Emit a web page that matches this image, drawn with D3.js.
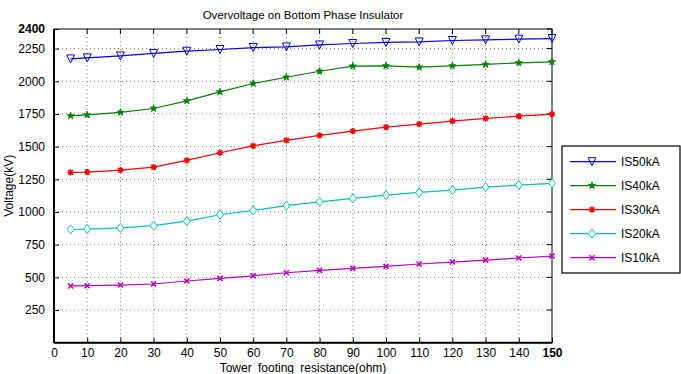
<!DOCTYPE html>
<html><head><meta charset="utf-8">
<script src="https://cdn.jsdelivr.net/npm/d3@7"></script>
<style>body{margin:0;background:#fff}svg{display:block;font-family:"Liberation Sans",Arial,sans-serif}</style>
</head><body><svg id="c" width="681" height="374"></svg>
<script>
const resistance = [5,10,20,30,40,50,60,70,80,90,100,110,120,130,140,150];
const is50 = [2171,2179,2194,2213,2230,2243,2258,2263,2278,2289,2297,2301,2312,2317,2322,2327];
const is40 = [1736,1743,1762,1792,1850,1919,1983,2031,2077,2116,2118,2108,2118,2129,2141,2149];
const is30 = [1303,1305,1320,1343,1395,1453,1506,1548,1586,1619,1649,1672,1695,1716,1733,1749];
const is20 = [867,869,879,895,930,979,1012,1048,1078,1104,1129,1150,1168,1190,1206,1219];
const is10 = [434,436,441,449,472,492,512,535,553,569,584,602,617,632,648,663];
const seriesNames = ["IS50kA","IS40kA","IS30kA","IS20kA","IS10kA"];
const xTicks = [0,10,20,30,40,50,60,70,80,90,100,110,120,130,140,150];
const yTicks = [250,500,750,1000,1250,1500,1750,2000,2250,2400];

const series = [
  {name:seriesNames[0], values:is50, color:"#0000ff", marker:"tri"},
  {name:seriesNames[1], values:is40, color:"#008000", marker:"star"},
  {name:seriesNames[2], values:is30, color:"#ff0000", marker:"ast"},
  {name:seriesNames[3], values:is20, color:"#00bfbf", marker:"dia"},
  {name:seriesNames[4], values:is10, color:"#bf00bf", marker:"x"}
];

const svg = d3.select("#c");
const L=54, R=552, T=29, B=342.7;
const x = d3.scaleLinear().domain([0,150]).range([L,R]);
const y = d3.scaleLinear().domain([0,2400]).range([B,T]);

// grid
const g = svg.append("g");
g.selectAll(".gx").data(xTicks.filter(d=>d>0&&d<150)).join("line")
  .attr("x1",d=>x(d)).attr("x2",d=>x(d)).attr("y1",T).attr("y2",B)
  .attr("stroke","#555").attr("stroke-width",0.8).attr("stroke-dasharray","1,3");
g.selectAll(".gy").data(yTicks.filter(d=>d<2400)).join("line")
  .attr("y1",d=>y(d)).attr("y2",d=>y(d)).attr("x1",L).attr("x2",R)
  .attr("stroke","#555").attr("stroke-width",0.8).attr("stroke-dasharray","1,3");

// axes
const fmt = d3.format("d");
const xAxis = d3.axisBottom(x).tickValues(xTicks).tickFormat(fmt).tickSizeInner(-5).tickSizeOuter(0).tickPadding(6);
const yAxis = d3.axisLeft(y).tickValues(yTicks).tickFormat(fmt).tickSizeInner(-5).tickSizeOuter(0).tickPadding(9);
const ax = svg.append("g").attr("transform",`translate(0,${B})`).call(xAxis);
const ay = svg.append("g").attr("transform",`translate(${L},0)`).call(yAxis);
[ax,ay].forEach(a=>{
  a.select(".domain").remove();
  a.selectAll("text").attr("font-size",12).attr("fill","#000").attr("font-family","Liberation Sans, Arial, sans-serif");
  a.selectAll("line").attr("stroke","#000");
});
ax.selectAll("text").filter(d=>d===150).attr("font-weight","bold");
ay.selectAll("text").filter(d=>d===2400).attr("font-weight","bold");
// top/right ticks
svg.append("g").selectAll("line").data(xTicks).join("line")
  .attr("x1",d=>x(d)).attr("x2",d=>x(d)).attr("y1",T).attr("y2",T+5).attr("stroke","#000");
svg.append("g").selectAll("line").data(yTicks).join("line")
  .attr("x1",R).attr("x2",R-5).attr("y1",d=>y(d)).attr("y2",d=>y(d)).attr("stroke","#000");
// box
svg.append("rect").attr("x",L).attr("y",T).attr("width",R-L).attr("height",B-T)
  .attr("fill","none").attr("stroke","#000").attr("stroke-width",1);
svg.append("line").attr("x1",L).attr("x2",R).attr("y1",B).attr("y2",B).attr("stroke","#000").attr("stroke-width",2);
svg.append("line").attr("x1",L).attr("x2",L).attr("y1",T).attr("y2",B).attr("stroke","#000").attr("stroke-width",2);

function drawMarker(sel, type, color){
  const s=4;
  if(type==="tri"){
    sel.append("path").attr("d",`M${-s},${-s}L${s},${-s}L0,${s}Z`).attr("fill","none").attr("stroke",color).attr("stroke-width",1);
  } else if(type==="star"){
    sel.append("path").attr("d",d3.symbol(d3.symbolStar,16)()).attr("fill",color).attr("stroke",color).attr("stroke-width",0.8);
  } else if(type==="ast"){
    sel.append("path").attr("d",`M0,-3.2L0,3.2M-3.2,0L3.2,0M-2.3,-2.3L2.3,2.3M-2.3,2.3L2.3,-2.3`).attr("stroke",color).attr("stroke-width",1.5);
  } else if(type==="dia"){
    sel.append("path").attr("d",`M0,-4.5L3.5,0L0,4.5L-3.5,0Z`).attr("fill","#fff").attr("stroke",color).attr("stroke-width",1);
  } else if(type==="x"){
    sel.append("path").attr("d",`M-2.5,-2.5L2.5,2.5M-2.5,2.5L2.5,-2.5`).attr("stroke",color).attr("stroke-width",1.6);
  }
}

const line = d3.line().x(d=>x(d[0])).y(d=>y(d[1]));
series.forEach(s=>{
  const pts = resistance.map((r,i)=>[r,s.values[i]]);
  svg.append("path").datum(pts).attr("d",line).attr("fill","none").attr("stroke",s.color).attr("stroke-width",1.2);
  pts.forEach(p=>{
    const m = svg.append("g").attr("transform",`translate(${x(p[0])},${y(p[1])})`);
    drawMarker(m,s.marker,s.color);
  });
});

// titles
svg.append("text").attr("x",(L+R)/2).attr("y",19).attr("text-anchor","middle").attr("font-size",11.5).text("Overvoltage on Bottom Phase Insulator");
svg.append("text").attr("x",(L+R)/2).attr("y",372).attr("text-anchor","middle").attr("font-size",12).attr("word-spacing","3px").text("Tower footing resistance(ohm)");
svg.append("text").attr("transform",`translate(13,${(T+B)/2}) rotate(-90)`).attr("text-anchor","middle").attr("font-size",12).text("Voltage(kV)");

// legend
const lg = svg.append("g");
lg.append("rect").attr("x",562).attr("y",146).attr("width",118).attr("height",127).attr("fill","#fff").attr("stroke","#000").attr("stroke-width",1.2);
series.forEach((s,i)=>{
  const yy = 161.7 + i*24;
  lg.append("line").attr("x1",570).attr("x2",616).attr("y1",yy).attr("y2",yy).attr("stroke",s.color).attr("stroke-width",1.2);
  const m = lg.append("g").attr("transform",`translate(592,${yy})`);
  drawMarker(m,s.marker,s.color);
  lg.append("text").attr("x",621).attr("y",yy+4.5).attr("font-size",12).text(s.name);
});
</script></body></html>
